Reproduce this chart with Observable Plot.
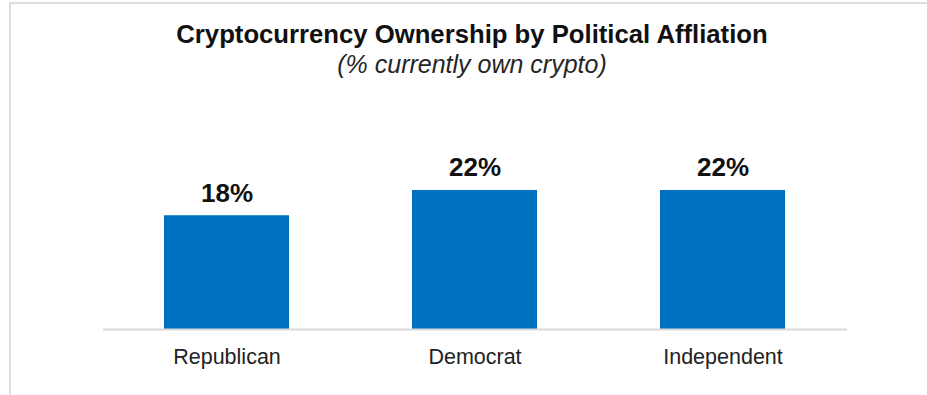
<!DOCTYPE html>
<html>
<head>
<meta charset="utf-8">
<script src="https://cdn.jsdelivr.net/npm/d3@7"></script>
<script src="https://cdn.jsdelivr.net/npm/@observablehq/plot@0.6"></script>
<style>
  html, body { margin: 0; padding: 0; background: #fff; }
  body { width: 927px; height: 395px; overflow: hidden; position: relative; font-family: "Liberation Sans", Arial, sans-serif; }
  #frame { position: absolute; left: 9px; top: 2px; width: 1000px; height: 500px; border-top: 2px solid #dedede; border-left: 2px solid #dedede; box-sizing: border-box; }
  .title { position: absolute; left: 0; width: 944px; text-align: center; line-height: 25px; white-space: nowrap; }
  #t1 { top: 22px; font-size: 25.7px; font-weight: bold; color: #111; }
  #t2 { top: 52px; font-size: 25px; font-style: italic; color: #262626; }
  #chart { position: absolute; left: 0; top: 90px; }
</style>
</head>
<body>
<div id="frame"></div>
<div class="title" id="t1">Cryptocurrency Ownership by Political Affliation</div>
<div class="title" id="t2">(% currently own crypto)</div>
<div id="chart"></div>
<script>
const categories = ["Republican", "Democrat", "Independent"];
const values = [18, 22, 22];
const valueLabels = ["18%", "22%", "22%"];

const data = categories.map((c, i) => ({category: c, value: values[i], label: valueLabels[i]}));

const chart = Plot.plot({
  width: 927,
  height: 305,
  marginLeft: 103,
  marginRight: 80,
  marginTop: 81,
  marginBottom: 66,
  style: {fontFamily: '"Liberation Sans", Arial, sans-serif', background: "transparent", overflow: "visible"},
  x: {domain: categories, paddingInner: 0.495, paddingOuter: 0.245, label: null},
  y: {domain: [0, 25], axis: null},
  marks: [
    Plot.barY(data, {x: "category", y: "value", fill: "#0070c0"}),
    Plot.ruleY([0], {stroke: "#d9d9d9", strokeWidth: 2}),
    Plot.text(data, {x: "category", y: "value", text: "label", dy: -14, lineAnchor: "bottom", fontSize: 26, fontWeight: "bold", fill: "#111"}),
    Plot.axisX({tickSize: 0, tickPadding: 19, fontSize: 21.5, color: "#222", label: null})
  ]
});
document.getElementById("chart").appendChild(chart);
</script>
</body>
</html>
